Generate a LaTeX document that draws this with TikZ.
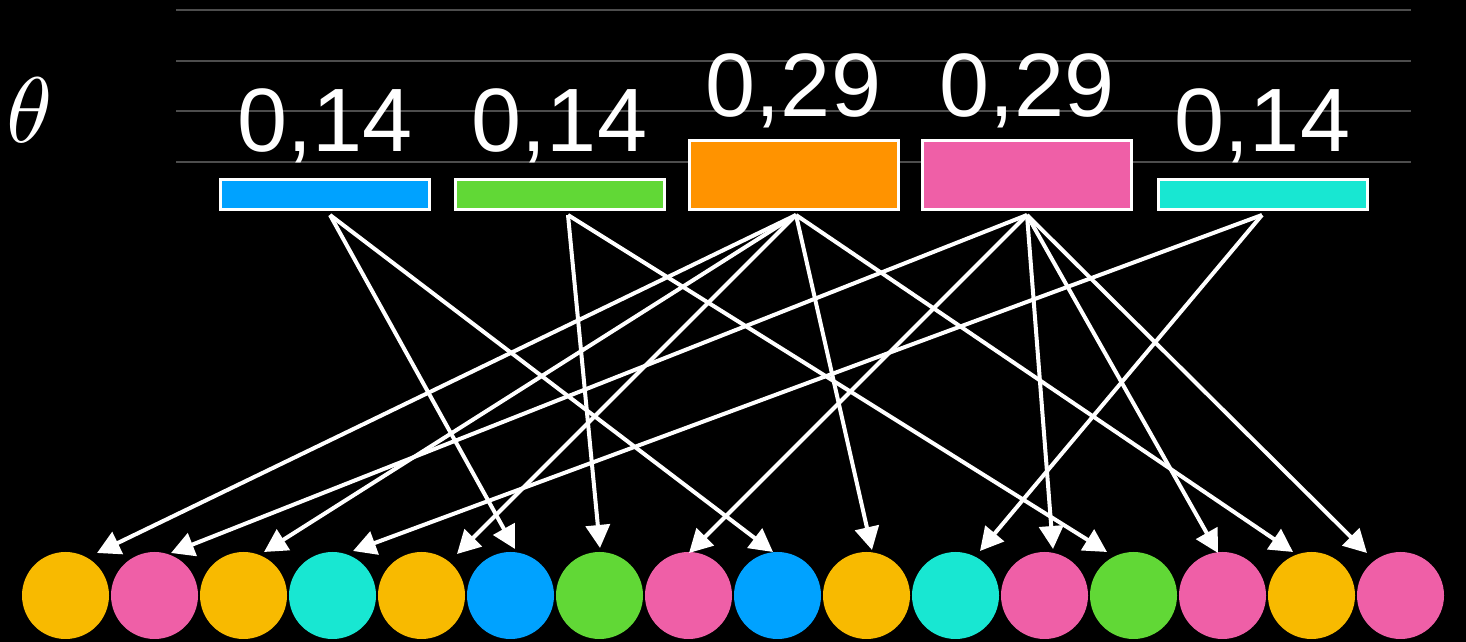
\documentclass[tikz,border=0pt]{standalone}
\usepackage{fontspec}
\newfontfamily\labelfont{Liberation Sans}
\usetikzlibrary{arrows.meta,calc}
\definecolor{cblue}{HTML}{00A2FF}
\definecolor{cgreen}{HTML}{61D836}
\definecolor{corange}{HTML}{FF9300}
\definecolor{cpink}{HTML}{EF5FA7}
\definecolor{ccyan}{HTML}{18E7D2}
\definecolor{cyellow}{HTML}{F8BA00}
\definecolor{gridgray}{HTML}{4D4D4D}
\begin{document}
\begin{tikzpicture}[x=1pt,y=1pt,
  bar/.style={draw=white, line width=3pt, inner sep=0pt, minimum width=209pt, anchor=south},
  lowbar/.style={bar, minimum height=30pt},
  highbar/.style={bar, minimum height=69pt},
  val/.style={text=white, font=\labelfont\fontsize{90}{90}\selectfont, anchor=base, inner sep=0pt},
  ball/.style={circle, inner sep=0pt, minimum size=87pt},
  link/.style={draw=white, line width=4pt, -{Triangle[length=23pt,width=24pt]}},
  gridline/.style={draw=gridgray, line width=2pt}]
\useasboundingbox[fill=black] (0,0) rectangle (1466,642);

% horizontal scale lines
\foreach \y in {632,581,531,480}
  \draw[gridline] (176,\y) -- (1411,\y);

% parameter symbol
\node[text=white, inner sep=0pt, scale=9.3] (theta) at (30,531.5) {$\theta$};

% probability bars
\node[lowbar,  fill=cblue]   (bblue)   at (325,431)    {};
\node[lowbar,  fill=cgreen]  (bgreen)  at (559.5,431)  {};
\node[highbar, fill=corange] (borange) at (793.5,431)  {};
\node[highbar, fill=cpink]   (bpink)   at (1027,431)   {};
\node[lowbar,  fill=ccyan]   (bcyan)   at (1262.5,431) {};

% values above the bars
\node[val] (lblue)   at (325,490)    {0,14};
\node[val] (lgreen)  at (559.5,490)  {0,14};
\node[val] (lorange) at (793.5,525)  {0,29};
\node[val] (lpink)   at (1027,525)   {0,29};
\node[val] (lcyan)   at (1262.5,490) {0,14};

% sampled balls
\foreach \i/\c in {0/cyellow,1/cpink,2/cyellow,3/ccyan,4/cyellow,5/cblue,6/cgreen,7/cpink,
                   8/cblue,9/cyellow,10/ccyan,11/cpink,12/cgreen,13/cpink,14/cyellow,15/cpink}
  \node[ball, fill=\c] (c\i) at ({65.5+89*\i},46.5) {};

% arrow starts below each bar
\coordinate (sblue)   at ($(bblue.south)+(5,-4)$);
\coordinate (sgreen)  at ($(bgreen.south)+(8.5,-4)$);
\coordinate (sorange) at ($(borange.south)+(2.5,-4)$);
\coordinate (spink)   at ($(bpink.south)+(0,-4)$);
\coordinate (scyan)   at ($(bcyan.south)+(-0.5,-4)$);

% arrow ends just above each ball
\foreach \i/\dx/\dy in {0/31.5/42.5,1/16.5/42.5,2/20.5/43.5,3/20.5/44.5,4/35.5/41.5,
                        5/4.5/46.5,6/0.5/47.5,7/0.5/42.5,8/-4.5/43.5,9/5.5/45.5,
                        10/24.5/44.5,11/8.5/46.5,12/-26.5/43.5,13/-4.5/42.5,14/-18.5/43.5,15/-33.5/42.5}
  \coordinate (t\i) at ($(c\i)+(\dx,\dy)$);

\foreach \s/\i in {sorange/0,spink/1,sorange/2,scyan/3,sorange/4,sblue/5,sgreen/6,spink/7,
                   sblue/8,sorange/9,scyan/10,spink/11,sgreen/12,spink/13,sorange/14,spink/15}
  \draw[link] (\s) -- (t\i);
\end{tikzpicture}
\end{document}
